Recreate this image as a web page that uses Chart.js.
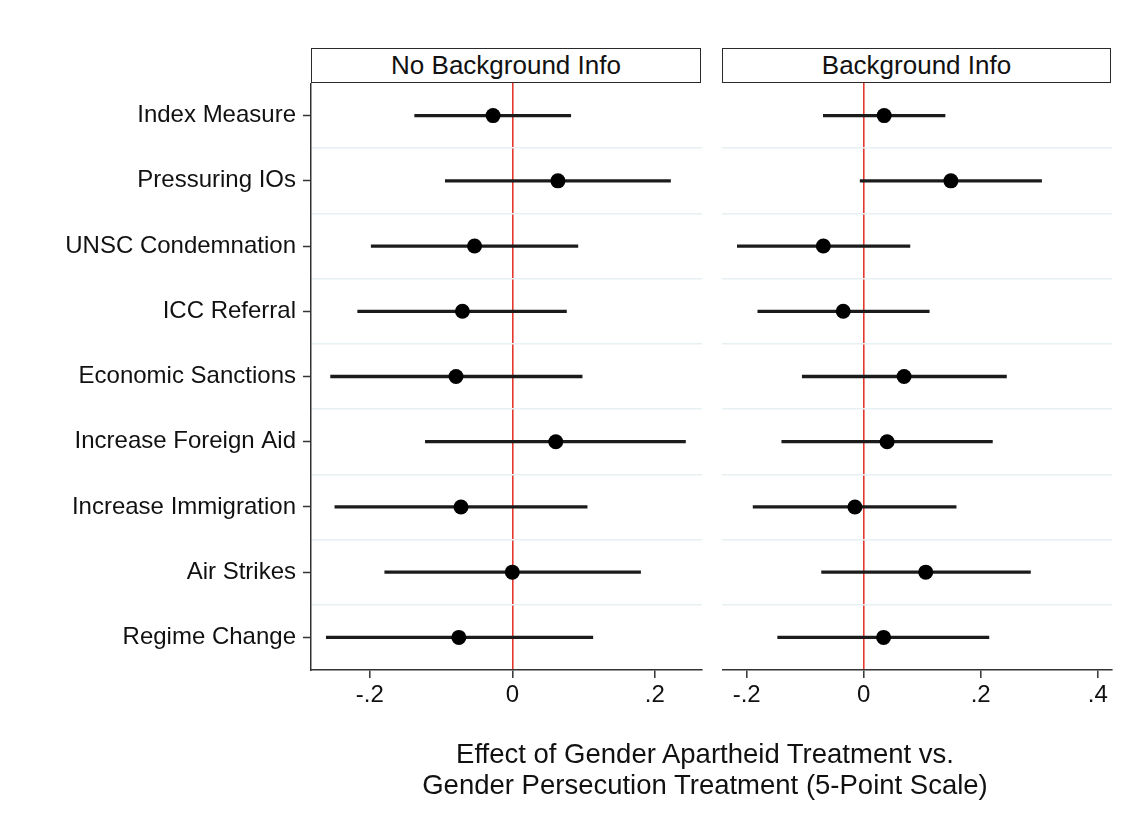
<!DOCTYPE html>
<html>
<head>
<meta charset="utf-8">
<script src="https://cdn.jsdelivr.net/npm/chart.js@4"></script>
<style>
  html, body { margin: 0; padding: 0; background: #fff; }
  body { width: 1143px; height: 836px; position: relative; overflow: hidden;
         font-family: "Liberation Sans", Arial, sans-serif; color: #111; }
  .strip { position: absolute; top: 48px; height: 33px; border: 1.5px solid #2a2a2a;
           font-size: 26px; line-height: 33px; text-align: center; box-sizing: content-box; }
  .cv { position: absolute; }
  #xtitle { position: absolute; left: 405px; width: 600px; top: 738px; text-align: center;
            font-size: 27.5px; line-height: 31px; }
</style>
</head>
<body>
<div class="strip" style="left:311px; width:388px;">No Background Info</div>
<div class="strip" style="left:722px; width:387px;">Background Info</div>
<div class="cv" style="left:0px; top:83px; width:712px; height:660px;"><canvas id="left"></canvas></div>
<div class="cv" style="left:722px; top:83px; width:421px; height:660px;"><canvas id="right"></canvas></div>
<div id="xtitle">Effect of Gender Apartheid Treatment vs.<br>Gender Persecution Treatment (5-Point Scale)</div>
<script>
// outcome rows, top to bottom
const categories = [
  "Index Measure", "Pressuring IOs", "UNSC Condemnation", "ICC Referral",
  "Economic Sanctions", "Increase Foreign Aid", "Increase Immigration",
  "Air Strikes", "Regime Change"
];

// No Background Info panel: point estimate and CI ends
const noInfoEst = [-0.027, 0.064, -0.053, -0.070, -0.079, 0.061, -0.072, 0.000, -0.075];
const noInfoLo  = [-0.137, -0.094, -0.198, -0.217, -0.255, -0.122, -0.249, -0.179, -0.261];
const noInfoHi  = [0.082, 0.222, 0.092, 0.076, 0.098, 0.243, 0.105, 0.180, 0.113];

// Background Info panel
const infoEst = [0.035, 0.149, -0.069, -0.035, 0.069, 0.040, -0.015, 0.106, 0.034];
const infoLo  = [-0.069, -0.006, -0.216, -0.181, -0.105, -0.140, -0.189, -0.072, -0.147];
const infoHi  = [0.139, 0.304, 0.079, 0.112, 0.244, 0.220, 0.158, 0.285, 0.214];

const noInfoTicks = [-0.2, 0, 0.2];
const infoTicks = [-0.2, 0, 0.2, 0.4];

const FONT = "'Liberation Sans', Arial, sans-serif";
const INK = "#111";
const AXIS = "#333";
const REF_RED = "#e2382d";
const GRID_BLUE = "#e7f0f2";

function fmtTick(v){
  if(Math.abs(v) < 1e-9) return "0";
  const s = Math.abs(v).toFixed(1).replace(/^0/, "");
  return v < 0 ? "-" + s : s;
}

// kill the label-overflow padding chart.js adds around vertical axes
function noPad(s){
  s.paddingTop = 0; s.paddingBottom = 0;
  s.paddingLeft = 0; s.paddingRight = 0;
}

function buildPanel(canvasId, est, lo, hi, xTicks, xMin, xMax, showLabels){
  const rows = categories.map((c, i) => i + 1);
  const ciData = rows.map((r, i) => ({ y: r, x: [lo[i], hi[i]] }));
  const ptData = rows.map((r, i) => ({ y: r, x: est[i] }));

  return new Chart(document.getElementById(canvasId), {
    type: "bar",
    data: {
      datasets: [
        {
          type: "scatter",
          data: ptData,
          xAxisID: "x", yAxisID: "y",
          pointRadius: 7.5,
          pointBackgroundColor: "#000",
          pointBorderWidth: 0,
          order: 0
        },
        {
          type: "bar",
          indexAxis: "y",
          data: ciData,
          xAxisID: "x", yAxisID: "y",
          barThickness: 2.6,
          backgroundColor: "#1b1b1b",
          borderWidth: 0,
          order: 1
        }
      ]
    },
    options: {
      responsive: true,
      maintainAspectRatio: false,
      animation: false,
      layout: { autoPadding: false, padding: { top: 0, bottom: 0, left: 0, right: showLabels ? 10 : 31 } },
      plugins: { legend: { display: false }, tooltip: { enabled: false } },
      scales: {
        x: {
          type: "linear",
          position: "bottom",
          offset: false,
          min: xMin, max: xMax,
          afterBuildTicks: (s) => { s.ticks = xTicks.map(v => ({ value: v })); },
          afterFit: (s) => { s.height = 73; noPad(s); },
          ticks: {
            callback: (v) => fmtTick(v),
            color: INK,
            font: { family: FONT, size: 24 },
            padding: 3,
            maxRotation: 0
          },
          grid: {
            offset: false,
            color: (ctx) => (ctx.tick && Math.abs(ctx.tick.value) < 1e-9) ? REF_RED : "rgba(0,0,0,0)",
            lineWidth: 1.6,
            tickColor: AXIS,
            tickLength: 8,
            tickWidth: 1.5
          },
          border: { display: true, color: AXIS, width: 1.5 }
        },
        y: {
          type: "linear",
          position: "left",
          offset: false,
          reverse: true,
          min: 0.5, max: 9.5,
          afterBuildTicks: (s) => { s.ticks = rows.map(v => ({ value: v })); },
          afterFit: (s) => { s.width = showLabels ? 311 : 0; noPad(s); },
          ticks: {
            display: showLabels,
            callback: (v) => categories[Math.round(v) - 1] || "",
            color: INK,
            font: { family: FONT, size: 24 },
            padding: 7
          },
          grid: {
            display: showLabels,
            offset: false,
            drawOnChartArea: false,
            tickColor: AXIS,
            tickLength: 8,
            tickWidth: 1.5
          },
          border: { display: showLabels, color: AXIS, width: 1.5 }
        },
        yg: {
          type: "linear",
          position: "left",
          offset: false,
          reverse: true,
          min: 0.5, max: 9.5,
          afterBuildTicks: (s) => { s.ticks = rows.slice(0, -1).map(v => ({ value: v + 0.5 })); },
          afterFit: (s) => { s.width = 0; noPad(s); },
          ticks: { display: false },
          grid: { offset: false, color: GRID_BLUE, lineWidth: 1.6, drawTicks: false },
          border: { display: false }
        }
      }
    }
  });
}

buildPanel("left", noInfoEst, noInfoLo, noInfoHi, noInfoTicks, -0.2825, 0.2662, true);
buildPanel("right", infoEst, infoLo, infoHi, infoTicks, -0.2422, 0.4244, false);
</script>
</body>
</html>
